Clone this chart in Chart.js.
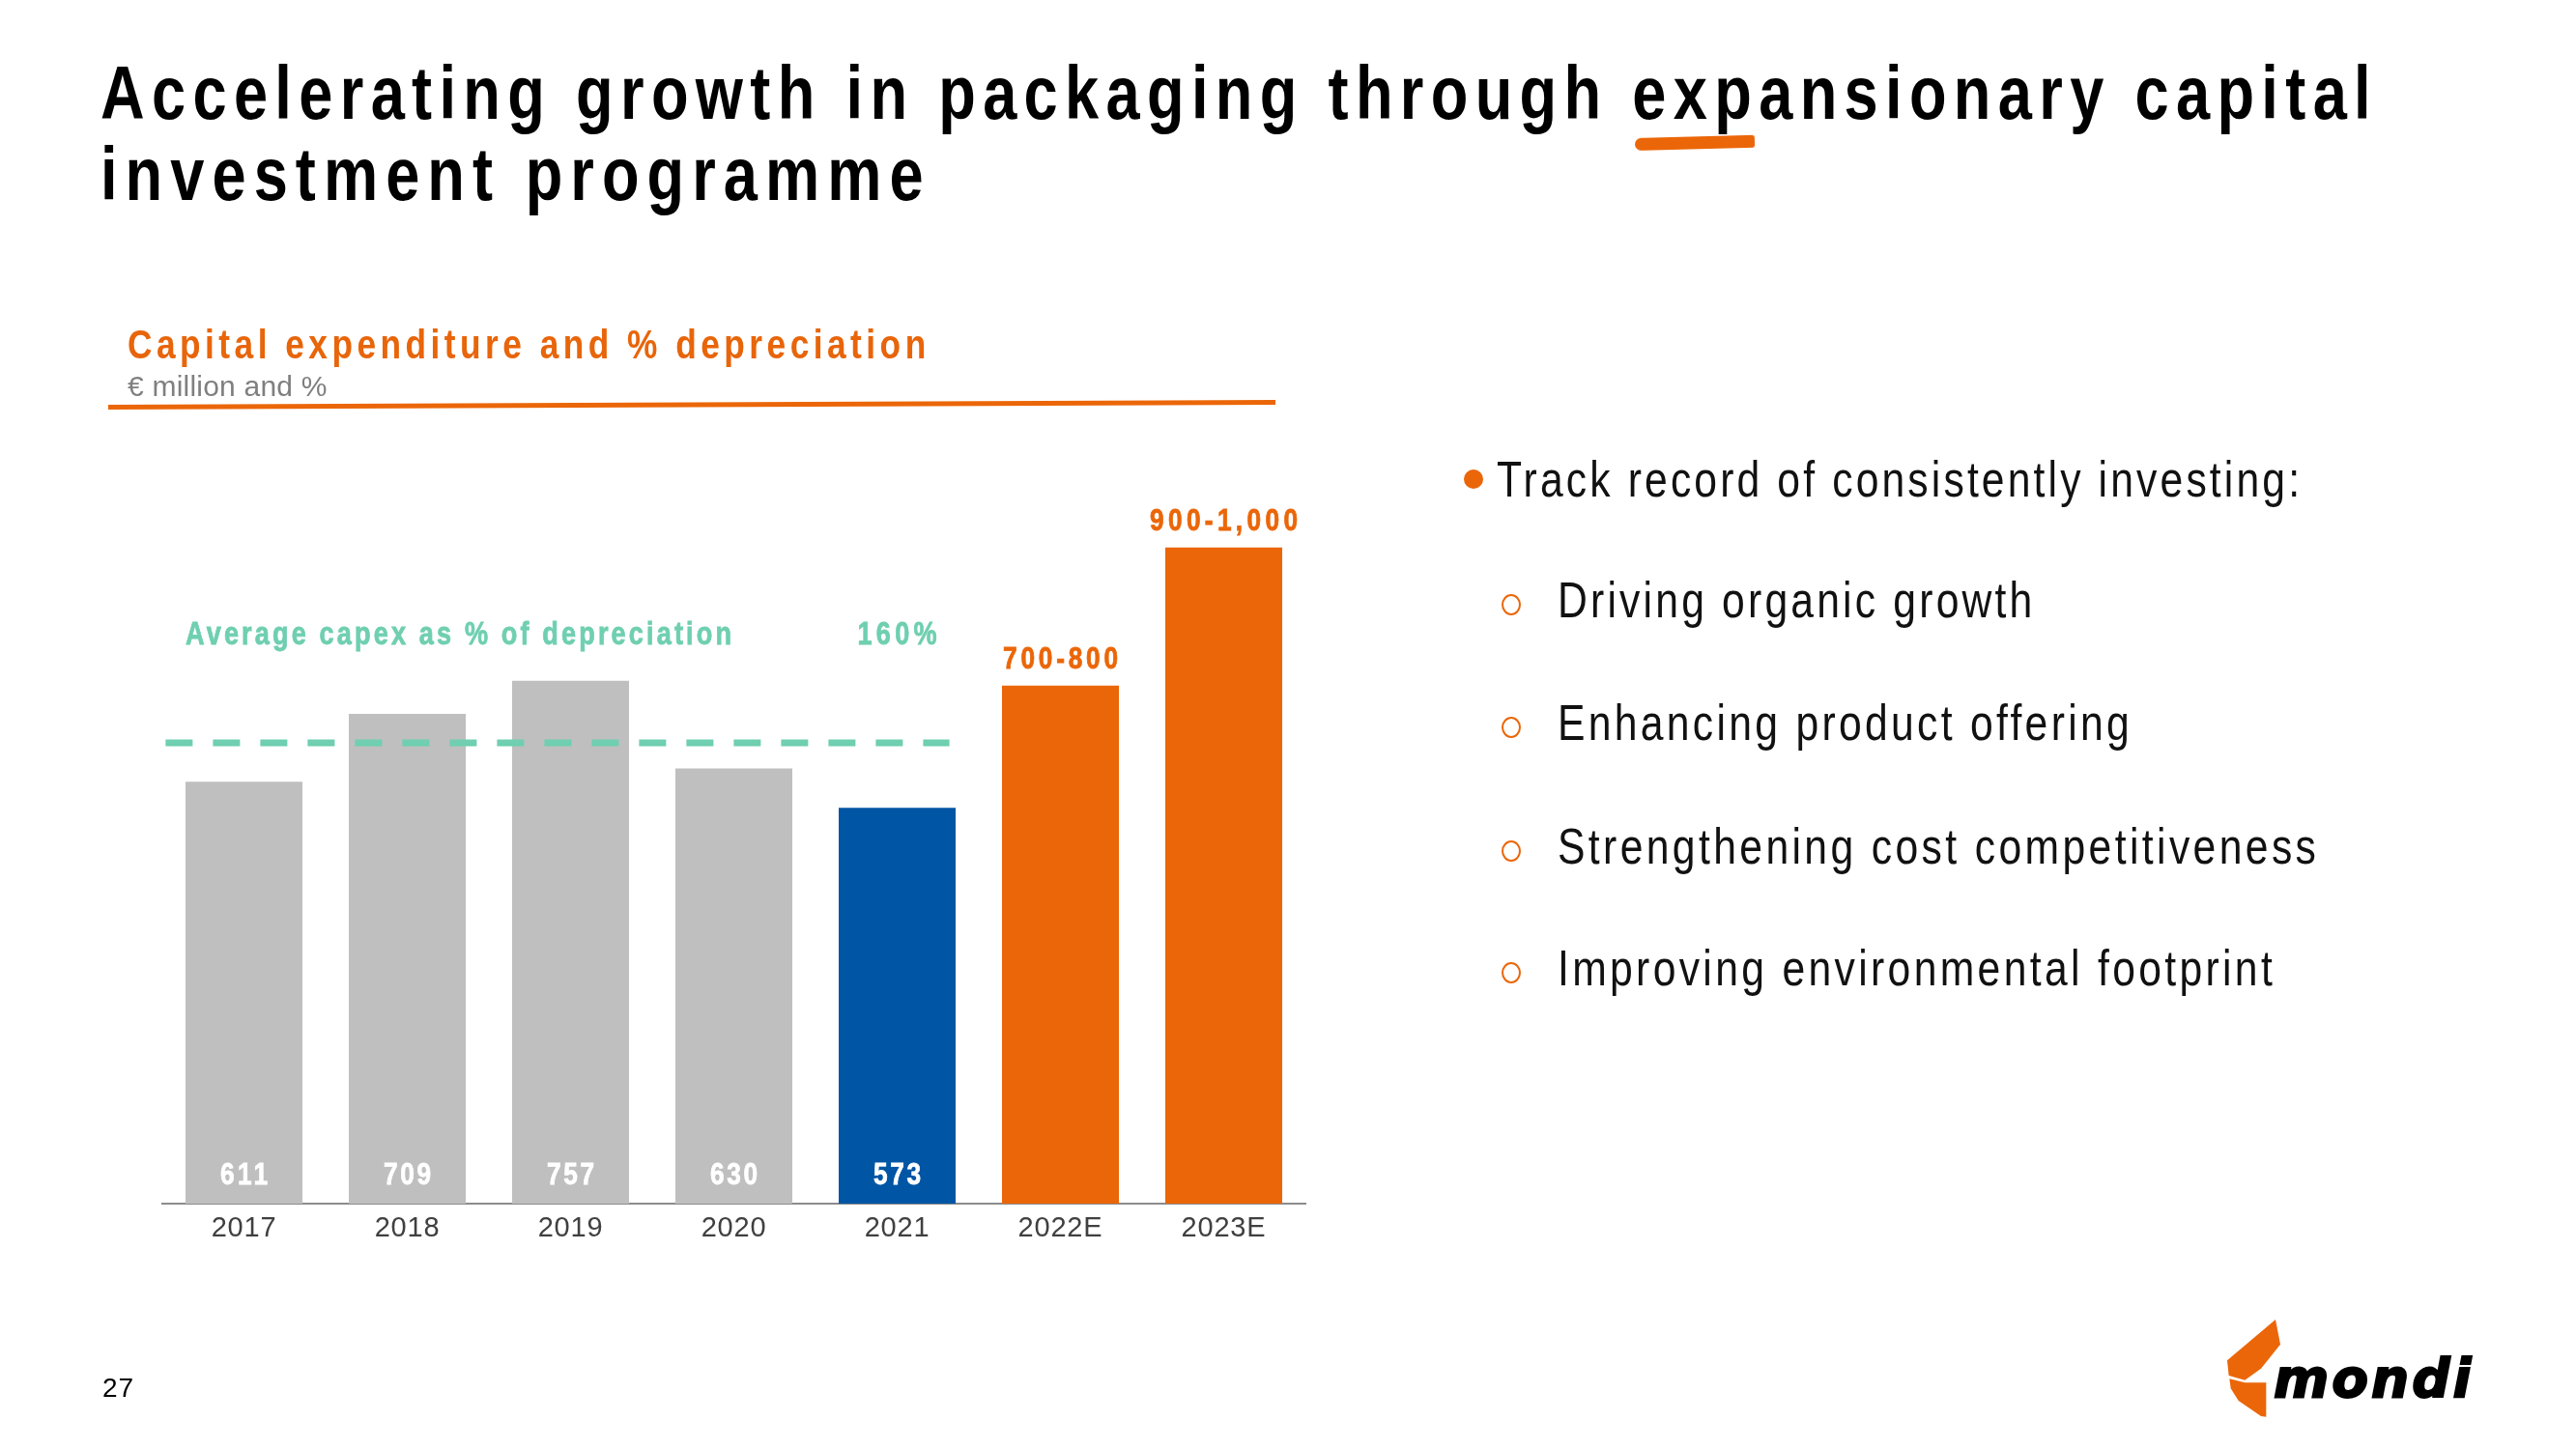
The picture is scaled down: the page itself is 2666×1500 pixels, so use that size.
<!DOCTYPE html>
<html>
<head>
<meta charset="utf-8">
<title>Capital expenditure and % depreciation</title>
<script src="https://cdn.jsdelivr.net/npm/chart.js@4.4.1/dist/chart.umd.min.js"></script>
<style>
  html, body { margin: 0; padding: 0; background: #fff; }
  body { width: 2666px; height: 1500px; position: relative; overflow: hidden;
         font-family: "Liberation Sans", Arial, sans-serif; color: #000; }
  #chart { position: absolute; left: 0; top: 0; }
  .t { position: absolute; white-space: nowrap; line-height: 1; }
  .narrow { transform: scaleX(0.82); transform-origin: left center; }
  .title { font-size: 77px; font-weight: bold; }
  .chart-title { font-size: 43px; font-weight: bold; color: #E8650A; }
  .chart-sub { font-size: 30px; color: #7F7F7F; }
  .bullet { font-size: 52px; color: #111; }
  .dot { position: absolute; width: 20px; height: 20px; border-radius: 50%; background: #EB6608; }
  .ring { position: absolute; width: 16px; height: 18px; border-radius: 50%; border: 2.4px solid #EB6608; }
  .rule { position: absolute; background: #EB6608; transform-origin: left center; }
  .logo-text { font-family: "DejaVu Sans", sans-serif; font-weight: bold; font-style: italic;
               font-size: 55px; -webkit-text-stroke: 2px #000; }
</style>
</head>
<body>
<canvas id="chart" width="2666" height="1500"></canvas>

<div class="t title narrow" data-w="2350" style="left:104px;top:58px">Accelerating growth in packaging through expansionary capital</div>
<div class="t title narrow" data-w="852" style="left:104px;top:142px">investment programme</div>
<div class="rule" style="left:1692px;top:143px;width:124px;height:13px;border-radius:7px 3px 3px 7px;transform:rotate(-1.5deg)"></div>

<div class="t chart-title narrow" data-w="826" style="left:132px;top:335px">Capital expenditure and % depreciation</div>
<div class="t chart-sub" data-w="206" style="left:132px;top:385px">€ million and %</div>
<div class="rule" style="left:112px;top:419px;width:1208px;height:5px;transform:rotate(-0.24deg)"></div>

<div class="dot" style="left:1515px;top:486px"></div>
<div class="t bullet narrow" data-w="831" style="left:1549px;top:470px">Track record of consistently investing:</div>
<div class="ring" style="left:1554px;top:615px"></div>
<div class="t bullet narrow" data-w="491" style="left:1612px;top:595px">Driving organic growth</div>
<div class="ring" style="left:1554px;top:742px"></div>
<div class="t bullet narrow" data-w="592" style="left:1612px;top:722px">Enhancing product offering</div>
<div class="ring" style="left:1554px;top:870px"></div>
<div class="t bullet narrow" data-w="785" style="left:1612px;top:850px">Strengthening cost competitiveness</div>
<div class="ring" style="left:1554px;top:996px"></div>
<div class="t bullet narrow" data-w="740" style="left:1612px;top:976px">Improving environmental footprint</div>

<div class="t" data-w="32" style="left:106px;top:1423px;font-size:28px">27</div>

<svg style="position:absolute;left:2290px;top:1350px" width="300" height="130" viewBox="0 0 900 390">
  <polygon fill="#EB6608" points="195,48 210,125 150,200 100,236 50,222 45,175"/>
  <polygon fill="#EB6608" points="52,232 100,244 166,244 166,350 150,348 80,300 56,262"/>
</svg>
<div class="t logo-text" data-w="204" style="left:2353px;top:1400px">mondi</div>

<script>
// capex, € million (2022E / 2023E drawn at the middle of the guided range)
const years = ["2017", "2018", "2019", "2020", "2021", "2022E", "2023E"];
const capex = [611, 709, 757, 630, 573, 750, 950];
const capexLabels = ["611", "709", "757", "630", "573", "700-800", "900-1,000"];
// average capex as % of depreciation, shown as a dashed level over the actual years
const avgCapex = 667;
const avgLabel = "Average capex as % of depreciation";
const avgPct = "160%";

const FONT = '"Liberation Sans", Arial, sans-serif';
const NARROW = 0.82;
const GREY = "#BFBFBF";
const BLUE = "#0055A4";
const ORANGE = "#EB6608";
const TEAL = "#6FCFB0";

const isEstimate = (i) => years[i].endsWith("E");
const lastActual = years.findLastIndex((y) => !y.endsWith("E"));

function barColor(i) {
  if (isEstimate(i)) return ORANGE;
  return i === lastActual ? BLUE : GREY;
}

// spread the slide texts to the widths they have in the slide
document.querySelectorAll(".t[data-w]").forEach((el) => {
  const sx = el.classList.contains("narrow") ? NARROW : 1;
  el.style.letterSpacing = "0px";
  const w = el.offsetWidth;
  const n = el.textContent.length;
  el.style.letterSpacing = (Number(el.dataset.w) / sx - w) / (n - 1) + "px";
});

// condensed, letter-spaced bold text of a given width on the canvas
function spacedText(ctx, text, x, y, width, align) {
  ctx.save();
  ctx.letterSpacing = "0px";
  const w = ctx.measureText(text).width;
  const ls = (width / NARROW - w) / (text.length - 1);
  const left = align === "center" ? x - width / 2 : x;
  ctx.translate(left, y);
  ctx.scale(NARROW, 1);
  ctx.textAlign = "left";
  ctx.letterSpacing = ls + "px";
  ctx.strokeStyle = ctx.fillStyle;
  ctx.lineWidth = 0.8;
  ctx.fillText(text, 0, 0);
  ctx.strokeText(text, 0, 0);
  ctx.restore();
}

const tickSpacing = {
  id: "tickSpacing",
  beforeDraw(chart) {
    chart.ctx.letterSpacing = "0.8px";
  },
  afterDraw(chart) {
    chart.ctx.letterSpacing = "0px";
  },
};

const annotate = {
  id: "annotate",
  afterDatasetsDraw(chart) {
    const { ctx } = chart;
    const y = chart.scales.y;
    const bars = chart.getDatasetMeta(0).data;
    ctx.save();
    ctx.textBaseline = "middle";
    bars.forEach((bar, i) => {
      const label = capexLabels[i];
      if (isEstimate(i)) {
        ctx.font = "bold 32px " + FONT;
        ctx.fillStyle = ORANGE;
        spacedText(ctx, label, bar.x, bar.y - 27, label.length * 17, "center");
      } else {
        ctx.font = "bold 32px " + FONT;
        ctx.fillStyle = "#FFFFFF";
        spacedText(ctx, label, bar.x, y.bottom - 29, 49, "center");
      }
    });

    const yAvg = y.getPixelForValue(avgCapex);
    ctx.font = "bold 33px " + FONT;
    ctx.fillStyle = TEAL;
    spacedText(ctx, avgLabel, bars[0].x - bars[0].width / 2, yAvg - 111, 565, "left");
    spacedText(ctx, avgPct, bars[lastActual].x, yAvg - 111, 82, "center");
    ctx.restore();
  },
};

new Chart(document.getElementById("chart"), {
  data: {
    labels: years,
    datasets: [
      {
        type: "bar",
        data: capex,
        order: 1,
        xAxisID: "x",
        yAxisID: "y",
        backgroundColor: (c) => barColor(c.dataIndex),
        grouped: false,
        barPercentage: 0.716,
        categoryPercentage: 1,
      },
      {
        type: "line",
        data: [
          { x: -0.48, y: avgCapex },
          { x: lastActual + 0.32, y: avgCapex },
        ],
        order: 0,
        xAxisID: "x2",
        yAxisID: "y",
        borderColor: TEAL,
        borderWidth: 7,
        borderDash: [28, 21],
        borderCapStyle: "butt",
        pointRadius: 0,
        fill: false,
      },
    ],
  },
  options: {
    responsive: false,
    animation: false,
    layout: { padding: { left: 168, right: 1315, top: 531, bottom: 0 } },
    plugins: {
      legend: { display: false },
      tooltip: { enabled: false },
    },
    scales: {
      x: {
        type: "category",
        offset: true,
        grid: { display: false, drawTicks: false },
        border: { display: true, color: "#8C8C8C", width: 2 },
        ticks: {
          color: "#404040",
          font: { family: FONT, size: 29 },
          padding: 9,
          autoSkip: false,
          maxRotation: 0,
        },
        afterFit: (scale) => {
          scale.height = 254;
        },
      },
      x2: { type: "linear", display: false, min: -0.5, max: years.length - 0.5 },
      y: { display: false, min: 0, max: 1000 },
    },
  },
  plugins: [tickSpacing, annotate],
});
</script>
</body>
</html>
